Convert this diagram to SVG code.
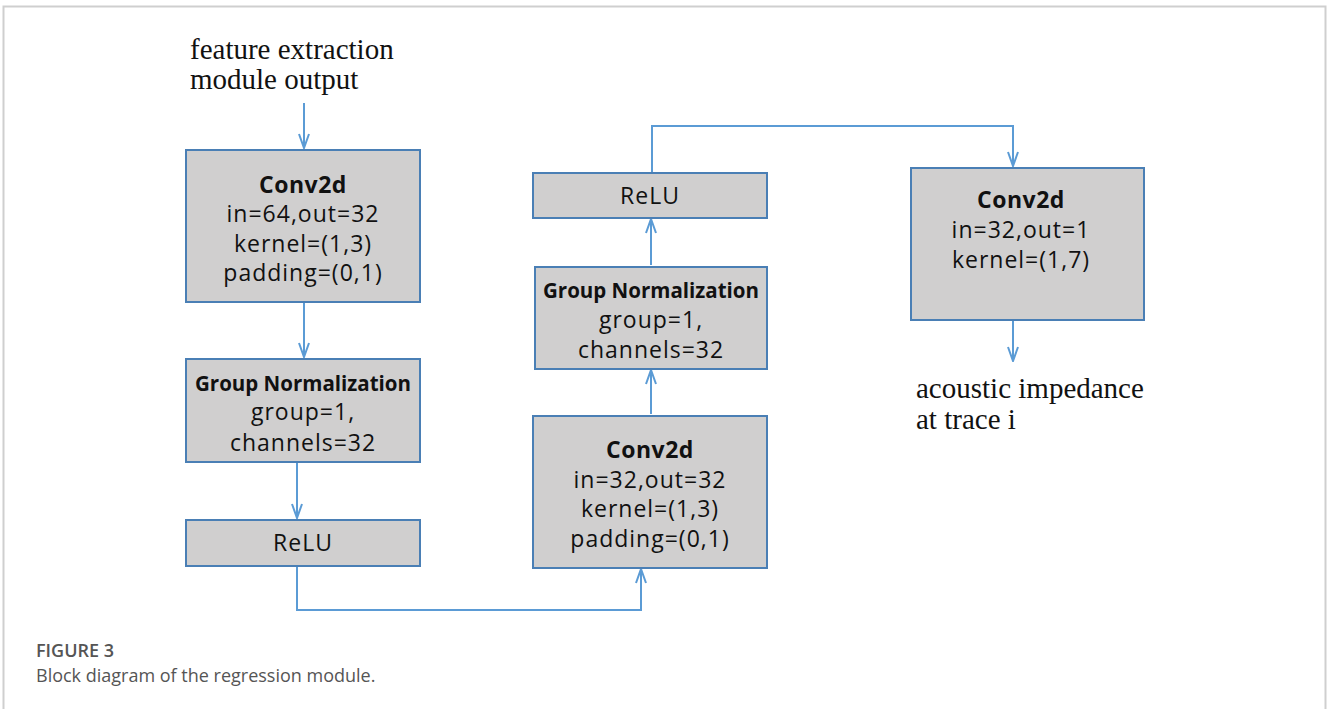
<svg xmlns="http://www.w3.org/2000/svg" width="1329" height="709" viewBox="0 0 1329 709">
<defs>
<style>
.box{fill:#d0cfcf;stroke:#4a7fb5;stroke-width:2}
.t{font-family:"Open Sans","Liberation Sans",sans-serif;font-size:23px;letter-spacing:1px;fill:#111;text-anchor:middle}
.b{font-weight:bold;letter-spacing:0.5px}
.g{font-size:20.5px;letter-spacing:0}
.s{font-family:"Liberation Serif","DejaVu Serif",serif;font-size:29px;fill:#111}
.c{fill:none;stroke:#5b9bd5;stroke-width:2}
.cap{font-family:"Open Sans","Liberation Sans",sans-serif;font-size:18px;fill:#555}
</style>
<marker id="ah" viewBox="0 0 16 12" refX="15" refY="6" markerWidth="16" markerHeight="12" markerUnits="userSpaceOnUse" orient="auto">
<path d="M1,1 L15,6 L1,11" fill="none" stroke="#5b9bd5" stroke-width="2"/>
</marker>
</defs>
<rect x="0" y="0" width="1329" height="709" fill="#fff"/>
<path d="M3.5,709 V6.5 H1325.5 V709" fill="none" stroke="#cfcfcf" stroke-width="2"/>
<g id="connectors">
<path class="c" d="M304,103 V148" marker-end="url(#ah)"/>
<path class="c" d="M304,303 V357" marker-end="url(#ah)"/>
<path class="c" d="M297,463 V518" marker-end="url(#ah)"/>
<path class="c" d="M297,567 V610 H641 V569" marker-end="url(#ah)"/>
<path class="c" d="M651,414 V370" marker-end="url(#ah)"/>
<path class="c" d="M651,265 V219" marker-end="url(#ah)"/>
<path class="c" d="M652,172 V126 H1013 V166" marker-end="url(#ah)"/>
<path class="c" d="M1013,321 V361" marker-end="url(#ah)"/>
</g>
<g id="input">
<text class="s" x="190" y="59">feature extraction</text>
<text class="s" x="190" y="89">module output</text>
</g>
<g id="conv1">
<rect class="box" x="186" y="150" width="234" height="152"/>
<text class="t b" x="303" y="193">Conv2d</text>
<text class="t" x="303" y="222">in=64,out=32</text>
<text class="t" x="303" y="252">kernel=(1,3)</text>
<text class="t" x="303" y="281">padding=(0,1)</text>
</g>
<g id="gn1">
<rect class="box" x="186" y="359" width="234" height="103"/>
<text class="t b g" x="303" y="391">Group Normalization</text>
<text class="t" x="303" y="420">group=1,</text>
<text class="t" x="303" y="451">channels=32</text>
</g>
<g id="relu1">
<rect class="box" x="186" y="520" width="234" height="46"/>
<text class="t" x="303" y="551">ReLU</text>
</g>
<g id="conv2">
<rect class="box" x="533" y="416" width="234" height="152"/>
<text class="t b" x="650" y="458">Conv2d</text>
<text class="t" x="650" y="488">in=32,out=32</text>
<text class="t" x="650" y="517">kernel=(1,3)</text>
<text class="t" x="650" y="547">padding=(0,1)</text>
</g>
<g id="gn2">
<rect class="box" x="535" y="267" width="232" height="102"/>
<text class="t b g" x="651" y="298">Group Normalization</text>
<text class="t" x="651" y="328">group=1,</text>
<text class="t" x="651" y="358">channels=32</text>
</g>
<g id="relu2">
<rect class="box" x="533" y="173" width="234" height="45"/>
<text class="t" x="650" y="204">ReLU</text>
</g>
<g id="conv3">
<rect class="box" x="911" y="168" width="233" height="152"/>
<text class="t b" x="1021" y="208">Conv2d</text>
<text class="t" x="1021" y="238">in=32,out=1</text>
<text class="t" x="1021" y="268">kernel=(1,7)</text>
</g>
<g id="output">
<text class="s" x="916" y="398">acoustic impedance</text>
<text class="s" x="916" y="429">at trace i</text>
</g>
<g id="caption">
<text class="cap" x="36" y="657" font-weight="600">FIGURE 3</text>
<text class="cap" x="36" y="682">Block diagram of the regression module.</text>
</g>
</svg>
